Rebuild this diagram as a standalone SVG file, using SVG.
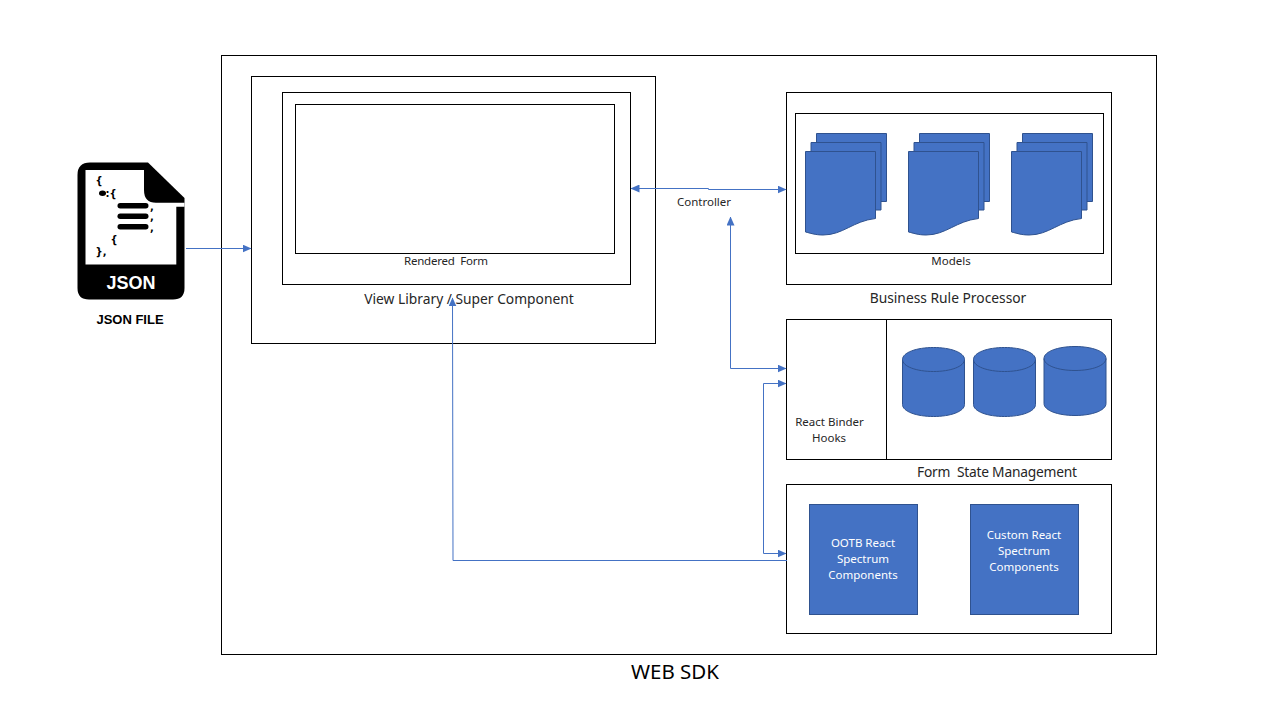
<svg xmlns="http://www.w3.org/2000/svg" width="1280" height="720" viewBox="0 0 1280 720">
<style>
text{font-family:"Noto Sans","Open Sans",sans-serif;fill:#262626;white-space:pre;text-anchor:middle}
.box{fill:#fff;stroke:#000;stroke-width:1}
.s{font-size:11.500px}
.m{font-size:13.800px}
.blue{fill:#4472c4;stroke:#2f528f;stroke-width:1}
.c{fill:none;stroke:#4472c4;stroke-width:1}
.k{font-family:"Liberation Sans",Arial,sans-serif;font-weight:bold;fill:#000}
.j{font-family:"DejaVu Sans",sans-serif;font-weight:bold;font-size:10px;fill:#000}
</style>
<defs>
<marker id="a" markerWidth="9" markerHeight="8" refX="8.500" refY="4" orient="auto" markerUnits="userSpaceOnUse"><path d="M0,0L9,4L0,8Z" fill="#4472c4"/></marker>
<marker id="as" markerWidth="9" markerHeight="8" refX="0.500" refY="4" orient="auto" markerUnits="userSpaceOnUse"><path d="M9,0L0,4L9,8Z" fill="#4472c4"/></marker>
<g id="doc"><path d="M11.500,0.500H81.500V68.500H11.500Z"/><path d="M6,9.500H76V77H6Z"/><path d="M0.500,18.500H70.500V85.500C48,88 38,102 18,102C10,102 5,100 0.500,99Z"/></g>
<g id="cyl"><path d="M0,23C0,16 14,11 31,11C48,11 62,16 62,23V68C62,75 48,80 31,80C14,80 0,75 0,68Z"/><path d="M0,23C0,30 14,35 31,35C48,35 62,30 62,23" fill="none"/></g>
</defs>
<rect width="1280" height="720" fill="#fff"/>
<g id="web-sdk"><rect class="box" x="221.500" y="55.500" width="935" height="599"/><text x="675" y="679" style="font-size:20.500px;fill:#000">WEB SDK</text></g>
<g id="json-file">
<path d="M90,162.500H148L184.500,198V288Q184.500,299.500 173,299.500H89Q77.500,299.500 77.500,288V175Q77.500,162.500 90,162.500Z" fill="#000"/>
<path d="M85.500,170H144V190Q144,202.700 156,202.700H184.500V206.700H176.300V264.500H85.500Z" fill="#fff"/>
<text class="j" x="99" y="184">{</text>
<ellipse cx="102.500" cy="193.300" rx="3.500" ry="2.700" fill="#000"/>
<text class="j" x="111" y="197">:{</text>
<rect x="117.500" y="203" width="31" height="5.500" rx="2.700" fill="#000"/>
<rect x="117.500" y="213.500" width="31" height="5.500" rx="2.700" fill="#000"/>
<rect x="117.500" y="224" width="31" height="5.500" rx="2.700" fill="#000"/>
<text class="j" x="152" y="210">,</text>
<text class="j" x="152" y="220">,</text>
<text class="j" x="152" y="231">,</text>
<text class="j" x="114" y="243">{</text>
<text class="j" x="101" y="255">},</text>
<text class="k" x="131" y="288.500" style="font-size:18px;fill:#fff">JSON</text>
<text class="k" x="130" y="324" style="font-size:13px">JSON FILE</text>
</g>
<g id="view-library"><rect class="box" x="251.500" y="76.500" width="404" height="267"/><text class="m" x="469" y="304">View Library / Super Component</text></g>
<g id="rendered-form"><rect class="box" x="282.500" y="92.500" width="348" height="192"/><rect class="box" x="295.500" y="104.500" width="319" height="149"/><text class="s" x="446" y="265" textLength="84">Rendered  Form</text></g>
<g id="business-rule-processor"><rect class="box" x="786.500" y="92.500" width="325" height="192"/><text class="m" x="948" y="303">Business Rule Processor</text></g>
<g id="models"><rect class="box" x="795.500" y="113.500" width="308" height="140"/>
<use href="#doc" x="805" y="133" class="blue"/><use href="#doc" x="908" y="133" class="blue"/><use href="#doc" x="1011" y="133" class="blue"/>
<text class="s" x="951" y="265">Models</text></g>
<g id="form-state"><rect class="box" x="786.500" y="319.500" width="325" height="140"/><path d="M886.500,319.500V459.500" stroke="#000" fill="none"/>
<text class="s" x="829.500" y="426">React Binder</text><text class="s" x="829" y="442">Hooks</text>
<use href="#cyl" x="902.500" y="336.500" class="blue"/><use href="#cyl" x="973.500" y="336.500" class="blue"/><use href="#cyl" x="1044" y="335.500" class="blue"/>
<text class="m" x="997" y="477" textLength="160">Form  State Management</text></g>
<g id="components"><rect class="box" x="786.500" y="484.500" width="325" height="149"/></g>
<g id="ootb"><rect class="blue" x="809.500" y="504.500" width="108" height="110"/><text class="s" x="863" y="547" style="fill:#fff">OOTB React</text><text class="s" x="863" y="563" style="fill:#fff">Spectrum</text><text class="s" x="863" y="579" style="fill:#fff">Components</text></g>
<g id="custom"><rect class="blue" x="970.500" y="504.500" width="108" height="110"/><text class="s" x="1024" y="539" style="fill:#fff">Custom React</text><text class="s" x="1024" y="555" style="fill:#fff">Spectrum</text><text class="s" x="1024" y="571" style="fill:#fff">Components</text></g>
<text class="s" x="704" y="206">Controller</text>
<g id="connectors">
<path class="c" d="M186,248.500H251" marker-end="url(#a)"/>
<path class="c" d="M631,188.500H708.500V189.500H786" marker-start="url(#as)" marker-end="url(#a)"/>
<path class="c" d="M730.500,217V368.500H786" marker-start="url(#as)" marker-end="url(#a)"/>
<path class="c" d="M786,383.500H763.500V553.500H786" marker-start="url(#as)" marker-end="url(#a)"/>
<path class="c" d="M452.500,298L453,560.500H787" marker-start="url(#as)"/>
</g>
</svg>
